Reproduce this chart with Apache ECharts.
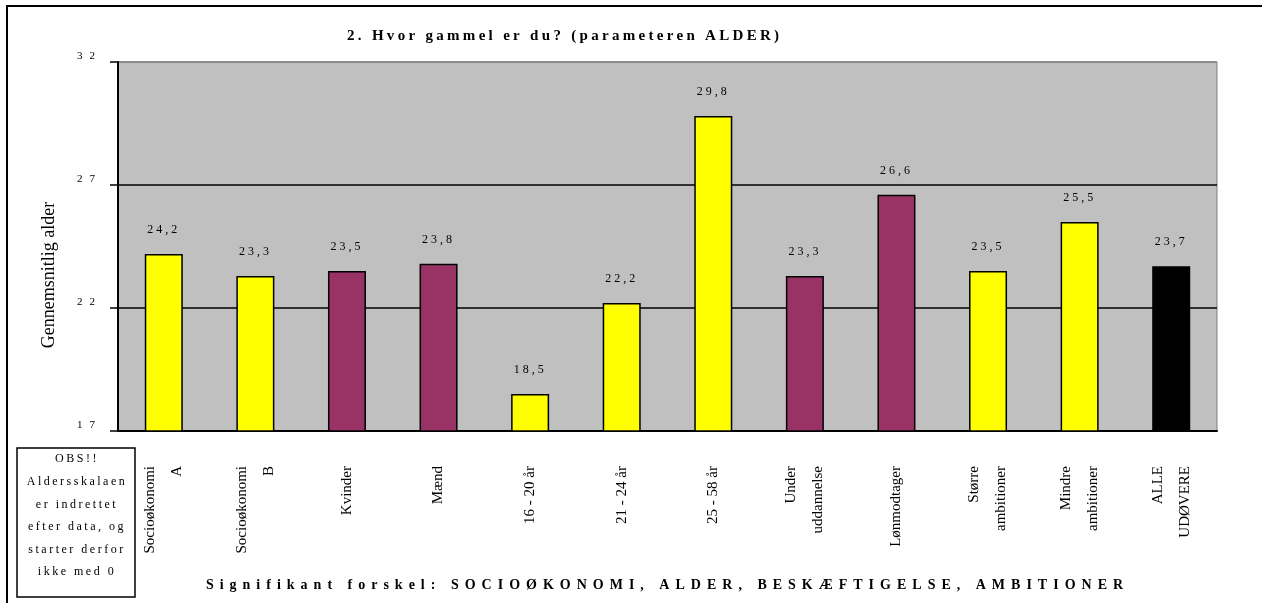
<!DOCTYPE html>
<html>
<head>
<meta charset="utf-8">
<script src="https://cdn.jsdelivr.net/npm/echarts@6/dist/echarts.min.js"></script>
<style>
  html, body { margin: 0; padding: 0; background: #fff; }
  #main { width: 1262px; height: 603px; }
</style>
</head>
<body>
<div id="main"></div>
<script>
// data
var categories = ['Socioøkonomi\nA', 'Socioøkonomi\nB', 'Kvinder', 'Mænd', '16 - 20 år', '21 - 24 år',
  '25 - 58 år', 'Under\nuddannelse', 'Lønmodtager', 'Større\nambitioner', 'Mindre\nambitioner', 'ALLE\nUDØVERE'];
var averageAge = [24.2, 23.3, 23.5, 23.8, 18.5, 22.2, 29.8, 23.3, 26.6, 23.5, 25.5, 23.7];
var barGroup = ['yellow', 'yellow', 'purple', 'purple', 'yellow', 'yellow', 'yellow', 'purple', 'purple', 'yellow', 'yellow', 'black'];
var yMin = 17, yMax = 32, yStep = 5;

var titleText = '2. Hvor gammel er du? (parameteren ALDER)';
var xName = 'Signifikant forskel: SOCIOØKONOMI, ALDER, BESKÆFTIGELSE, AMBITIONER';
var yName = 'Gennemsnitlig alder';
var noteLines = ['OBS!!', 'Aldersskalaen', 'er indrettet', 'efter data, og', 'starter derfor', 'ikke med 0'];

var groupColors = { yellow: '#FFFF00', purple: '#993366', black: '#000000' };

function fmt(v) {
  return v.toFixed(1).replace('.', ',');
}

// the old chart uses spread-out lettering; canvas can do that per string
var spacing = {};
spacing[titleText] = '3.3px';
spacing[xName] = '6px';
noteLines.forEach(function (l) { spacing[l] = '2.5px'; });
averageAge.forEach(function (v) { spacing[fmt(v)] = '3px'; });
for (var t = yMin; t <= yMax; t += yStep) spacing[String(t)] = '7px';

var origFill = CanvasRenderingContext2D.prototype.fillText;
CanvasRenderingContext2D.prototype.fillText = function (txt) {
  var ls = spacing[txt];
  if (ls && 'letterSpacing' in this) {
    var f = this.font;
    this.save();
    this.letterSpacing = ls;
    this.font = f;
    origFill.apply(this, arguments);
    this.restore();
    this.letterSpacing = '0px';
    this.font = f;
  } else {
    origFill.apply(this, arguments);
  }
};

var serif = '"Liberation Serif", "DejaVu Serif", serif';

var chart = echarts.init(document.getElementById('main'));
var option = {
  animation: false,
  backgroundColor: '#fff',
  grid: {
    left: 118, right: 45, top: 62, bottom: 172,
    show: true, backgroundColor: '#C0C0C0', borderColor: '#808080', borderWidth: 1
  },
  xAxis: {
    type: 'category',
    data: categories,
    name: xName,
    nameLocation: 'middle',
    nameGap: 147,
    nameTextStyle: { fontFamily: serif, fontSize: 14, fontWeight: 'bold', color: '#000' },
    axisLine: { lineStyle: { color: '#000', width: 2 } },
    axisTick: { length: 6, lineStyle: { color: '#000', width: 1.5 } },
    axisLabel: {
      rotate: 90, margin: 35, interval: 0,
      fontFamily: serif, fontSize: 15, color: '#000', lineHeight: 27
    }
  },
  yAxis: {
    type: 'value',
    min: yMin, max: yMax, interval: yStep,
    axisLine: { show: true, lineStyle: { color: '#000', width: 2 } },
    axisTick: { show: true, length: 8, lineStyle: { color: '#000', width: 1.5 } },
    axisLabel: {
      margin: 16, fontFamily: serif, fontSize: 11, color: '#000', verticalAlign: 'bottom'
    },
    splitLine: {
      lineStyle: { color: ['#000', '#000', '#000', '#808080'], width: 1.5 }
    }
  },
  graphic: [
    {
      type: 'rect', z: -10, silent: true,
      shape: { x: 7, y: 6, width: 1400, height: 800 },
      style: { fill: 'none', stroke: '#000', lineWidth: 2 }
    },
    {
      type: 'text', left: 347, top: 29,
      style: { text: titleText, font: 'bold 15px ' + serif, fill: '#000' }
    },
    {
      type: 'text', x: 49, y: 275, rotation: Math.PI / 2,
      style: { text: yName, font: '18px ' + serif, fill: '#000', align: 'center', verticalAlign: 'middle' }
    },
    {
      type: 'rect',
      shape: { x: 17, y: 448, width: 118, height: 149 },
      style: { fill: '#fff', stroke: '#000', lineWidth: 1.5 }
    },
    {
      type: 'text', x: 77, y: 448,
      style: {
        text: noteLines.join('\n'), font: '12px ' + serif, fill: '#000',
        align: 'center', verticalAlign: 'top', lineHeight: 22.6
      }
    }
  ],
  series: [{
    type: 'bar',
    barWidth: 38,
    data: averageAge.map(function (v, i) {
      return { value: v, itemStyle: { color: groupColors[barGroup[i]] } };
    }),
    itemStyle: { borderColor: '#000', borderWidth: 1.5 },
    label: {
      show: true, position: 'top', distance: 18,
      fontFamily: serif, fontSize: 12, color: '#000',
      formatter: function (p) { return fmt(p.value); }
    }
  }]
};
chart.setOption(option);
</script>
</body>
</html>
